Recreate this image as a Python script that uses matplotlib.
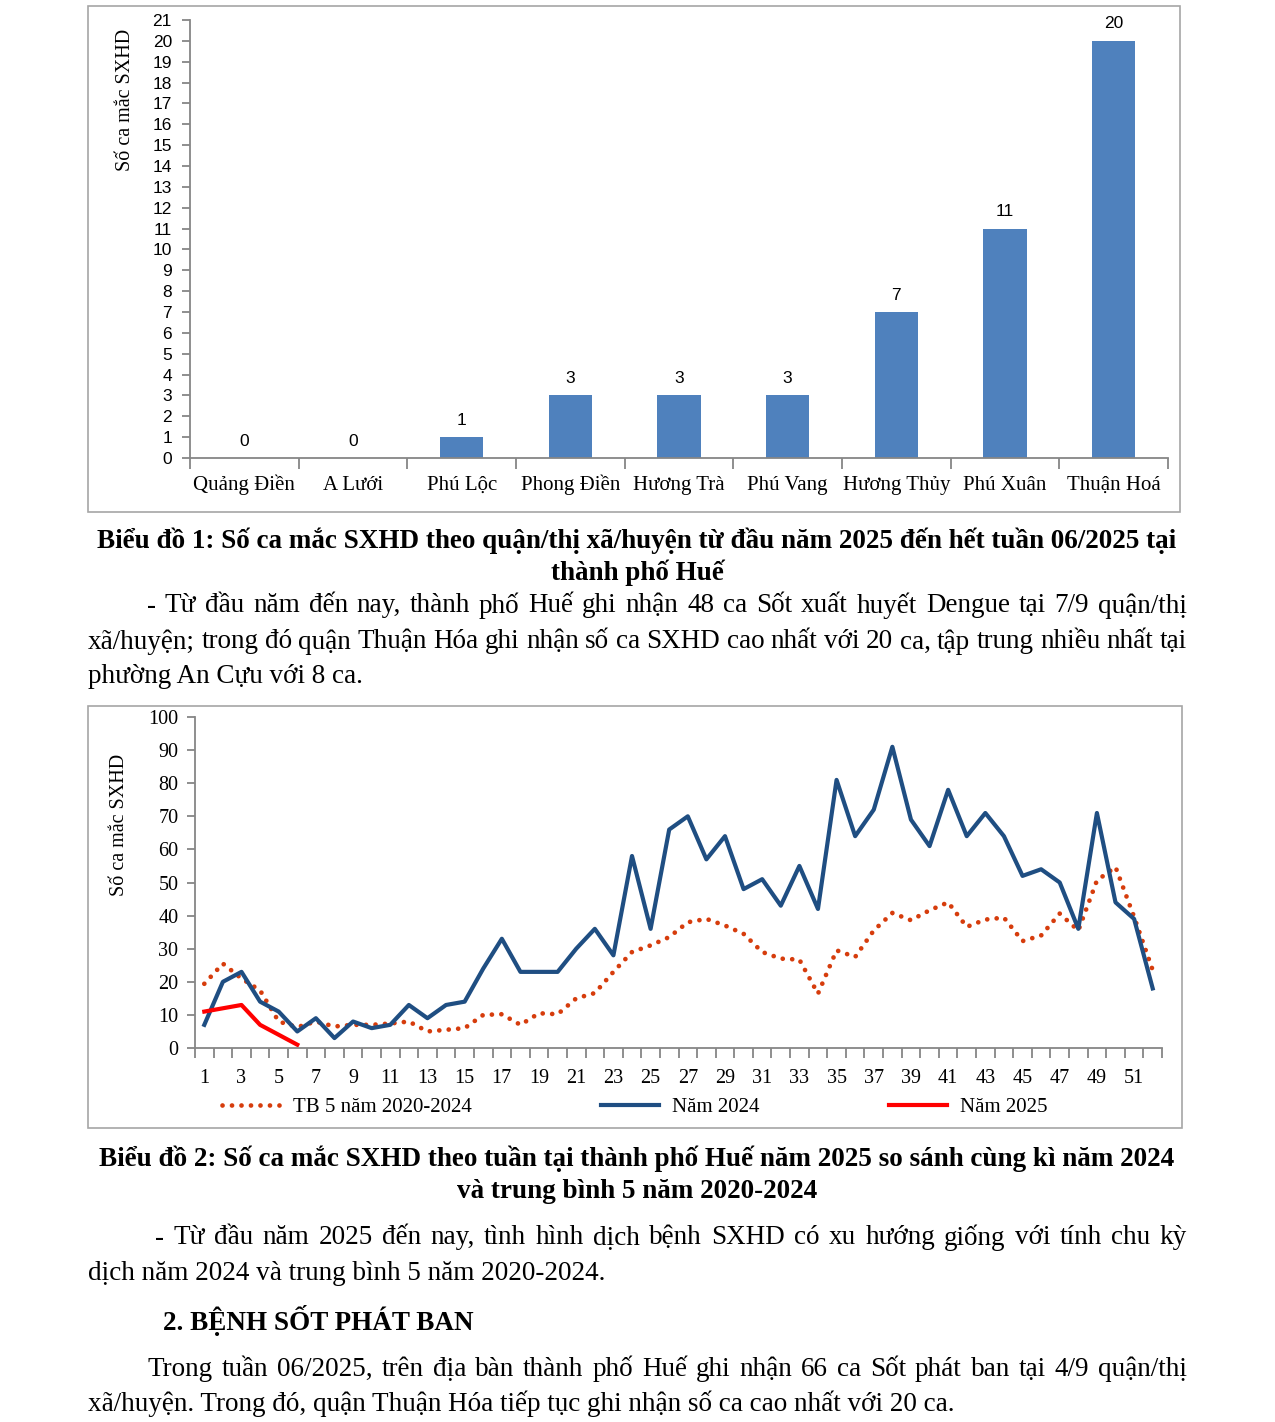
import matplotlib.pyplot as plt
import numpy as np
from matplotlib.patches import Rectangle

# ---- data ----
districts = ['Quảng Điền', 'A Lưới', 'Phú Lộc', 'Phong Điền', 'Hương Trà',
             'Phú Vang', 'Hương Thủy', 'Phú Xuân', 'Thuận Hoá']
cases_district = [0, 0, 1, 3, 3, 3, 7, 11, 20]

weeks = list(range(1, 53))
avg_5y = [19.4, 25.5, 21, 17.4, 8, 6.3, 8, 6.5, 7, 7, 7.4, 8, 5, 5.5, 6, 10,
          10.2, 7, 10.5, 10.2, 15, 16.6, 23, 29, 31, 33.5, 38, 39, 37, 34.5,
          29, 27, 26.7, 16.4, 29.5, 27.5, 35.5, 40.8, 38.6, 41.6, 44, 36.6,
          38.8, 39.4, 32.3, 34, 40.6, 35.5, 50.6, 54.7, 39.6, 23.5]
y2024 = [7, 20, 23, 14, 11, 5, 9, 3, 8, 6, 7, 13, 9, 13, 14, 24, 33, 23, 23,
         23, 30, 36, 28, 58, 36, 66, 70, 57, 64, 48, 51, 43, 55, 42, 81, 64,
         72, 91, 69, 61, 78, 64, 71, 64, 52, 54, 50, 36, 71, 44, 39, 18]
y2025 = [11, 12, 13, 7, 4, 1]

W, H = 1275, 1422
SERIF = 'Liberation Serif'
SANS = 'Liberation Sans'
AXC = '#868686'

fig = plt.figure(figsize=(W / 100, H / 100), dpi=100)


def fx(px):
    return px / W


def fy(py):
    return 1 - py / H


def frame(x0, y0, x1, y1):
    fig.patches.append(Rectangle((fx(x0), fy(y1)), fx(x1 - x0), (y1 - y0) / H,
                                 transform=fig.transFigure, fill=False,
                                 edgecolor='#A6A6A6', linewidth=1.2))


def style_axes(ax):
    for s in ['top', 'right']:
        ax.spines[s].set_visible(False)
    for s in ['left', 'bottom']:
        ax.spines[s].set_color(AXC)
        ax.spines[s].set_linewidth(1.3)
    ax.tick_params(axis='both', colors=AXC, width=1.3, length=6, direction='out')
    ax.tick_params(axis='both', labelcolor='black')


# ---- chart 1: bars ----
frame(88, 6, 1180, 512)
ax1 = fig.add_axes([fx(190), fy(458), fx(1168 - 190), (458 - 20) / H])
x = np.arange(len(districts))
ax1.bar(x, cases_district, width=0.4, color='#4F81BD')
for xi, v in zip(x, cases_district):
    ax1.text(xi, v + 0.45, str(v), ha='center', va='bottom',
             fontsize=12.5, family=SANS)
ax1.set_xlim(-0.5, len(districts) - 0.5)
ax1.set_ylim(0, 21)
ax1.set_yticks(range(0, 22))
ax1.set_yticklabels([str(i) for i in range(0, 22)], family=SANS, fontsize=12.5)
ax1.set_xticks(np.arange(-0.5, len(districts), 1.0))
ax1.set_xticklabels([])
ax1.set_xticks(x, minor=True)
ax1.set_xticklabels(districts, minor=True, family=SERIF, fontsize=15)
for lab in ax1.get_xticklabels(minor=True):
    lab.set_verticalalignment('baseline')
style_axes(ax1)
ax1.tick_params(axis='y', pad=7)
ax1.tick_params(axis='x', which='major', length=8)
ax1.tick_params(axis='x', which='minor', length=0, pad=23)
fig.text(fx(125), fy(100), 'Số ca mắc SXHD', rotation=90, ha='center',
         va='center', family=SERIF, fontsize=14.5)

# ---- chart 2: weekly lines ----
frame(88, 706, 1182, 1128)
ax2 = fig.add_axes([fx(195), fy(1048), fx(1162 - 195), (1048 - 717) / H])
l1, = ax2.plot(weeks, avg_5y, color='#D63C0C', linewidth=3.4,
               linestyle=(0, (0.01, 2.0)), dash_capstyle='round',
               label='TB 5 năm 2020-2024')
l2, = ax2.plot(weeks, y2024, color='#1F4E82', linewidth=3.0, label='Năm 2024')
l3, = ax2.plot(weeks[:len(y2025)], y2025, color='#FF0000', linewidth=3.0,
               label='Năm 2025')
ax2.set_xlim(0.5, 52.5)
ax2.set_ylim(0, 100)
ax2.set_yticks(range(0, 101, 10))
ax2.set_yticklabels([str(i) for i in range(0, 101, 10)], family=SERIF, fontsize=14.5)
ax2.set_xticks(np.arange(0.5, 53, 1.0))
ax2.set_xticklabels([])
ax2.set_xticks(weeks[::2], minor=True)
ax2.set_xticklabels([str(w) for w in weeks[::2]], minor=True, family=SERIF,
                    fontsize=14.5)
style_axes(ax2)
ax2.tick_params(axis='y', pad=6)
ax2.tick_params(axis='x', which='major', length=7)
ax2.tick_params(axis='x', which='minor', length=0, pad=15)
fig.text(fx(120), fy(825), 'Số ca mắc SXHD', rotation=90, ha='center',
         va='center', family=SERIF, fontsize=14.5)
for h, xl in [(l1, 222), (l2, 601), (l3, 889)]:
    fig.legend(handles=[h], loc='center left', bbox_to_anchor=(fx(xl), fy(1107)),
               frameon=False, prop={'family': SERIF, 'size': 15},
               handlelength=2.8, handletextpad=0.6, borderpad=0, borderaxespad=0)

# ---- page text ----
FS = 19.5


def line(px, py, s, ha='left', bold=False):
    fig.text(fx(px), fy(py), s, ha=ha, va='center', family=SERIF, fontsize=FS,
             fontweight='bold' if bold else 'normal')


def justify(px0, px1, py, s):
    words = s.split(' ')
    r = fig.canvas.get_renderer()
    objs = [fig.text(0, fy(py), w, va='center', family=SERIF, fontsize=FS)
            for w in words]
    widths = [o.get_window_extent(r).width for o in objs]
    gap = (px1 - px0 - sum(widths)) / (len(words) - 1)
    pos = px0
    for o, w in zip(objs, widths):
        o.set_x(fx(pos))
        pos += w + gap


line(637, 541, 'Biểu đồ 1: Số ca mắc SXHD theo quận/thị xã/huyện từ đầu năm 2025 '
     'đến hết tuần 06/2025 tại', ha='center', bold=True)
line(637, 573, 'thành phố Huế', ha='center', bold=True)
justify(147, 1187, 606, '- Từ đầu năm đến nay, thành phố Huế ghi nhận 48 ca Sốt '
        'xuất huyết Dengue tại 7/9 quận/thị')
justify(88, 1187, 642, 'xã/huyện; trong đó quận Thuận Hóa ghi nhận số ca SXHD '
        'cao nhất với 20 ca, tập trung nhiều nhất tại')
line(88, 677, 'phường An Cựu với 8 ca.')
line(637, 1159, 'Biểu đồ 2: Số ca mắc SXHD theo tuần tại thành phố Huế năm 2025 '
     'so sánh cùng kì năm 2024', ha='center', bold=True)
line(637, 1191, 'và trung bình 5 năm 2020-2024', ha='center', bold=True)
justify(155, 1187, 1238, '- Từ đầu năm 2025 đến nay, tình hình dịch bệnh SXHD có '
        'xu hướng giống với tính chu kỳ')
line(88, 1273, 'dịch năm 2024 và trung bình 5 năm 2020-2024.')
line(163, 1321, '2. BỆNH SỐT PHÁT BAN', bold=True)
justify(148, 1187, 1369, 'Trong tuần 06/2025, trên địa bàn thành phố Huế ghi nhận '
        '66 ca Sốt phát ban tại 4/9 quận/thị')
line(88, 1404, 'xã/huyện. Trong đó, quận Thuận Hóa tiếp tục ghi nhận số ca cao '
     'nhất với 20 ca.')

fig.savefig('out.png', dpi=100)
